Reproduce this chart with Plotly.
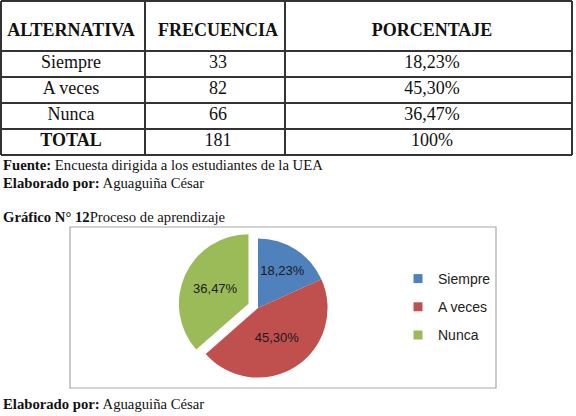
import plotly.graph_objects as go

# ---------------- data ----------------
encabezados = ["ALTERNATIVA", "FRECUENCIA", "PORCENTAJE"]
alternativas = ["Siempre", "A veces", "Nunca"]
frecuencias = [33, 82, 66]
porcentajes = [18.23, 45.30, 36.47]
total_etiqueta = "TOTAL"
total_frecuencia = 181
total_porcentaje = 100
colores = ["#4F81BD", "#C0504D", "#9BBB59"]


def fmt_pct(v, dec=2):
    return f"{v:.{dec}f}".replace(".", ",") + "%"


# ---------------- layout geometry (page pixels) ----------------
W, H = 576, 416
col_edges = [1, 145, 285, 572]
row_edges = [1, 51, 77, 103, 129, 155]
col_text_x = [71, 218, 432]
row_text_y = [31, 63, 89, 115, 141]
serif = "Liberation Serif"
sans = "Liberation Sans"

fig = go.Figure()

# table cell texts
col1 = ["<b>" + encabezados[0] + "</b>"] + alternativas + ["<b>" + total_etiqueta + "</b>"]
col2 = ["<b>" + encabezados[1] + "</b>"] + [str(f) for f in frecuencias] + [str(total_frecuencia)]
col3 = ["<b>" + encabezados[2] + "</b>"] + [fmt_pct(p) for p in porcentajes] + [fmt_pct(total_porcentaje, 0)]
for cx, col in zip(col_text_x, [col1, col2, col3]):
    fig.add_trace(go.Scatter(
        x=[cx] * len(col), y=row_text_y, text=col, mode="text",
        textposition="middle center",
        textfont=dict(family=serif, size=18, color="#111111"),
        showlegend=False, hoverinfo="skip", xaxis="x", yaxis="y"))

shapes = []
for xe in col_edges:
    shapes.append(dict(type="line", xref="x", yref="y", x0=xe, x1=xe,
                       y0=row_edges[0], y1=row_edges[-1],
                       line=dict(color="#333333", width=2)))
for ye in row_edges:
    shapes.append(dict(type="line", xref="x", yref="y", x0=col_edges[0], x1=col_edges[-1],
                       y0=ye, y1=ye, line=dict(color="#333333", width=2)))
# chart frame
shapes.append(dict(type="rect", xref="x", yref="y", x0=70, x1=496, y0=227, y1=388,
                   line=dict(color="#a8a8a8", width=1.2), fillcolor="rgba(0,0,0,0)"))

# pie
cx, cy, half = 258, 308, 80
fig.add_trace(go.Pie(
    values=porcentajes, labels=alternativas,
    text=[fmt_pct(p) for p in porcentajes], textinfo="text",
    textposition="inside", sort=False, direction="clockwise", rotation=0,
    pull=[0, 0, 0.15],
    marker=dict(colors=colores, line=dict(width=0)),
    insidetextfont=dict(family=sans, size=13, color="#1a1a1a"),
    domain=dict(x=[(cx - half) / W, (cx + half) / W],
                y=[1 - (cy + half) / H, 1 - (cy - half) / H]),
    showlegend=False, hoverinfo="label+text"))

# legend entries
for i, (lab, c) in enumerate(zip(alternativas, colores)):
    fig.add_trace(go.Scatter(
        x=[None], y=[None], mode="markers", name=lab,
        marker=dict(symbol="square", size=9, color=c),
        legendgroup=f"g{i}", showlegend=True, xaxis="x", yaxis="y"))

doc_text = [
    ("<b>Fuente:</b> Encuesta dirigida a los estudiantes de la UEA", 1, 165),
    ("<b>Elaborado por:</b> Aguaguiña César", 1, 183),
    ("<b>Gráfico N° 12</b>Proceso de aprendizaje", 1, 217),
    ("<b>Elaborado por:</b> Aguaguiña César", 1, 404),
]
annotations = []
for t, px, py in doc_text:
    annotations.append(dict(text=t, x=px / W, y=1 - py / H, xref="paper", yref="paper",
                            xanchor="left", yanchor="middle", showarrow=False,
                            font=dict(family=serif, size=14.7, color="#111111")))

fig.update_layout(
    width=W, height=H, margin=dict(l=0, r=0, t=0, b=0),
    paper_bgcolor="white", plot_bgcolor="white",
    xaxis=dict(range=[0, W], domain=[0, 1], visible=False, fixedrange=True),
    yaxis=dict(range=[H, 0], domain=[0, 1], visible=False, fixedrange=True),
    shapes=shapes, annotations=annotations,
    showlegend=True,
    legend=dict(x=398 / W, y=1 - 263 / H, xanchor="left", yanchor="top",
                font=dict(family=sans, size=14, color="#222222"),
                tracegroupgap=7, bgcolor="rgba(0,0,0,0)"),
)

fig.write_html("out.html")
